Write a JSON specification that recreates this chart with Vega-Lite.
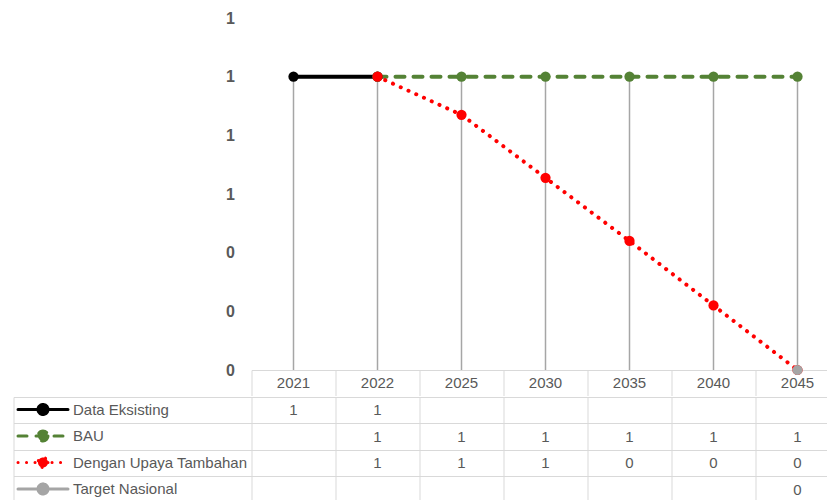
{
  "$schema": "https://vega.github.io/schema/vega-lite/v6.json",
  "padding": {"left": 12.5, "top": 10, "right": 0, "bottom": 0},
  "config": {"view": {"stroke": null}, "font": "Liberation Sans", "concat": {"spacing": 0}},
  "datasets": {
    "pts": [
      {"series": "Data Eksisting", "year": "2021", "value": 1.0},
      {"series": "Data Eksisting", "year": "2022", "value": 1.0},
      {"series": "BAU", "year": "2022", "value": 1.0},
      {"series": "BAU", "year": "2025", "value": 1.0},
      {"series": "BAU", "year": "2030", "value": 1.0},
      {"series": "BAU", "year": "2035", "value": 1.0},
      {"series": "BAU", "year": "2040", "value": 1.0},
      {"series": "BAU", "year": "2045", "value": 1.0},
      {"series": "Dengan Upaya Tambahan", "year": "2022", "value": 1.0},
      {"series": "Dengan Upaya Tambahan", "year": "2025", "value": 0.87},
      {"series": "Dengan Upaya Tambahan", "year": "2030", "value": 0.655},
      {"series": "Dengan Upaya Tambahan", "year": "2035", "value": 0.44},
      {"series": "Dengan Upaya Tambahan", "year": "2040", "value": 0.22},
      {"series": "Dengan Upaya Tambahan", "year": "2045", "value": 0.0},
      {"series": "Target Nasional", "year": "2045", "value": 0.0}
    ]
  },
  "spacing": 0,
  "resolve": {"scale": {"color": "shared", "strokeDash": "shared"}, "legend": {"color": "shared", "strokeDash": "shared"}},
  "vconcat": [
    {
      "width": 588,
      "height": 352,
      "data": {"name": "pts"},
      "layer": [
        {
          "transform": [{"aggregate": [{"op": "max", "field": "value", "as": "top"}], "groupby": ["year"]}],
          "mark": {"type": "rule", "color": "#A6A6A6", "strokeWidth": 1.5},
          "encoding": {
            "x": {"field": "year", "type": "nominal", "scale": {"type": "band", "domain": ["2021", "2022", "2025", "2030", "2035", "2040", "2045"], "paddingInner": 0, "paddingOuter": 0},
              "axis": {"title": null, "orient": "bottom", "labelAngle": 0, "domainColor": "#D9D9D9", "domainWidth": 1, "ticks": true, "tickColor": "#D9D9D9", "tickSize": 25.5, "tickWidth": 1, "bandPosition": 0, "labelOffset": 0, "labelBaseline": "middle", "labelPadding": -13.5, "labelFontSize": 15, "labelColor": "#595959", "labelFontWeight": "normal"}},
            "y": {"field": "top", "type": "quantitative", "scale": {"domain": [0, 1.2], "nice": false},
              "axis": {"title": null, "values": [0, 0.2, 0.4, 0.6, 0.8, 1, 1.2], "format": ".0f", "grid": false, "domain": false, "ticks": false, "labelPadding": 17, "labelFontSize": 16, "labelFontWeight": "bold", "labelColor": "#595959"}},
            "y2": {"datum": 0}
          }
        },
        {
          "mark": {"type": "line", "strokeWidth": 4, "strokeCap": "round"},
          "encoding": {
            "x": {"field": "year", "type": "nominal"},
            "y": {"field": "value", "type": "quantitative"},
            "color": {"field": "series", "type": "nominal",
              "scale": {"domain": ["Data Eksisting", "BAU", "Dengan Upaya Tambahan", "Target Nasional"], "range": ["#000000", "#548235", "#FF0000", "#A5A5A5"]},
              "legend": {"title": null, "orient": "none", "legendX": -220, "legendY": 380, "padding": 0,
                "symbolType": "M-2.5,0H2.5M0.5,0A0.5,0.5,0,1,1,-0.5,0A0.5,0.5,0,1,1,0.5,0Z",
                "symbolSize": 400, "symbolStrokeWidth": 3, "rowPadding": 3.5, "labelFontSize": 15, "labelColor": "#595959", "labelOffset": 18.5, "labelLimit": 300, "symbolOpacity": 1,
                "encode": {"symbols": {"update": {"fill": {"scale": "color", "field": "value"}, "stroke": {"scale": "color", "field": "value"}, "strokeCap": {"value": "round"}}}}}},
            "strokeDash": {"field": "series", "type": "nominal",
              "scale": {"domain": ["Data Eksisting", "BAU", "Dengan Upaya Tambahan", "Target Nasional"], "range": [[1, 0], [9, 9], [0.1, 8.4], [1, 0]]},
              "legend": {"title": null, "orient": "none", "legendX": -220, "legendY": 380, "padding": 0,
                "symbolType": "M-2.5,0H2.5M0.5,0A0.5,0.5,0,1,1,-0.5,0A0.5,0.5,0,1,1,0.5,0Z",
                "symbolSize": 400, "symbolStrokeWidth": 3, "rowPadding": 3.5, "labelFontSize": 15, "labelColor": "#595959", "labelOffset": 18.5, "labelLimit": 300, "symbolOpacity": 1}}
          }
        },
        {
          "mark": {"type": "point", "filled": true, "size": 105, "opacity": 1},
          "encoding": {
            "x": {"field": "year", "type": "nominal"},
            "y": {"field": "value", "type": "quantitative"},
            "color": {"field": "series", "type": "nominal"}
          }
        }
      ]
    },
    {
      "width": 588,
      "height": 106,
      "data": {"name": "pts"},
      "mark": {"type": "text", "fontSize": 15, "color": "#595959"},
      "encoding": {
        "x": {"field": "year", "type": "nominal", "scale": {"type": "band", "domain": ["2021", "2022", "2025", "2030", "2035", "2040", "2045"], "paddingInner": 0, "paddingOuter": 0},
          "axis": {"title": null, "grid": true, "gridColor": "#D9D9D9", "bandPosition": 0, "labels": false, "ticks": false, "domain": false}},
        "y": {"field": "series", "type": "nominal", "scale": {"type": "band", "domain": ["Data Eksisting", "BAU", "Dengan Upaya Tambahan", "Target Nasional"], "paddingInner": 0, "paddingOuter": 0},
          "axis": {"title": null, "offset": 238, "grid": true, "gridColor": "#D9D9D9", "bandPosition": 0, "domain": true, "domainColor": "#D9D9D9", "ticks": true, "tickSize": -238, "tickColor": "#D9D9D9", "labels": false}},
        "text": {"field": "value", "type": "quantitative", "format": ".0f"}
      }
    }
  ]
}
